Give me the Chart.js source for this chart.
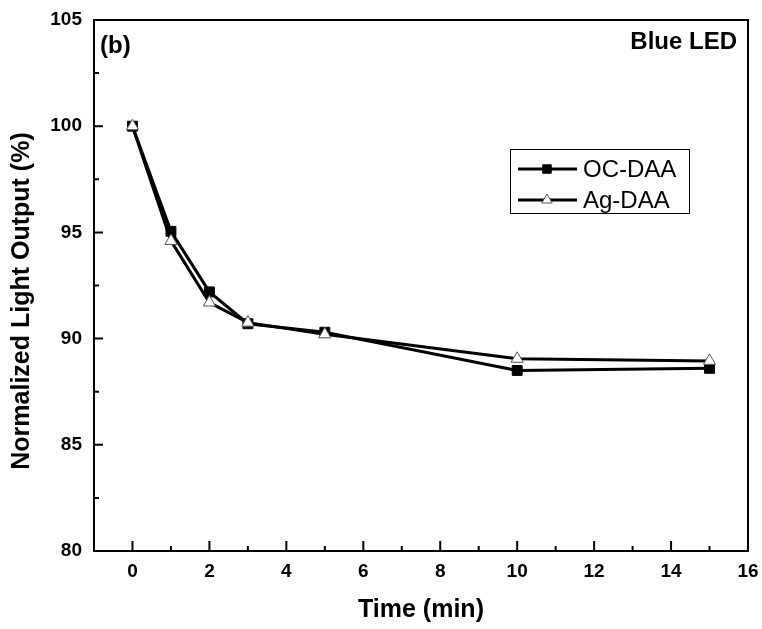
<!DOCTYPE html>
<html lang="en">
<head>
    <meta charset="utf-8">
    <title>Blue LED - Normalized Light Output</title>
    <script src="https://cdn.jsdelivr.net/npm/chart.js"></script>
    <style>
        html, body {
            margin: 0;
            padding: 0;
            background: #fff;
        }
        .chart-box {
            width: 762px;
            height: 629px;
        }
    </style>
</head>
<body>
    <div class="chart-box">
        <canvas id="ledChart" width="762" height="629"></canvas>
    </div>

    <script>
        // data
        const timeMin = [0, 1, 2, 3, 5, 10, 15];
        const ocDaa = [100, 95.05, 92.2, 90.7, 90.3, 88.5, 88.6];
        const agDaa = [100, 94.6, 91.7, 90.75, 90.2, 89.05, 88.95];

        const xTicks = [0, 2, 4, 6, 8, 10, 12, 14, 16];
        const xMinorTicks = [1, 3, 5, 7, 9, 11, 13, 15];
        const yTicks = [80, 85, 90, 95, 100, 105];
        const yMinorTicks = [82.5, 87.5, 92.5, 97.5, 102.5];

        const FONT = '"Liberation Sans", Arial, sans-serif';

        // frame, inward ticks, panel text, y title
        const frameTicks = {
            id: 'frameTicks',
            afterDraw(chart) {
                const { ctx, chartArea: a, scales } = chart;
                const x = scales.x, y = scales.y;
                ctx.save();
                ctx.strokeStyle = '#000';
                ctx.lineWidth = 2;
                ctx.strokeRect(a.left, a.top, a.right - a.left, a.bottom - a.top);

                ctx.beginPath();
                xTicks.forEach(v => {
                    const px = x.getPixelForValue(v);
                    ctx.moveTo(px, a.bottom);
                    ctx.lineTo(px, a.bottom - 10);
                });
                xMinorTicks.forEach(v => {
                    const px = x.getPixelForValue(v);
                    ctx.moveTo(px, a.bottom);
                    ctx.lineTo(px, a.bottom - 5);
                });
                yTicks.forEach(v => {
                    const py = y.getPixelForValue(v);
                    ctx.moveTo(a.left, py);
                    ctx.lineTo(a.left + 9, py);
                });
                yMinorTicks.forEach(v => {
                    const py = y.getPixelForValue(v);
                    ctx.moveTo(a.left, py);
                    ctx.lineTo(a.left + 5, py);
                });
                ctx.stroke();

                ctx.fillStyle = '#000';
                ctx.font = 'bold 24px ' + FONT;
                ctx.textBaseline = 'middle';
                ctx.textAlign = 'left';
                ctx.fillText('(b)', a.left + 6, 46);
                ctx.textAlign = 'right';
                ctx.fillText('Blue LED', a.right - 11, 42);

                // y axis title
                ctx.translate(22, 301);
                ctx.rotate(-Math.PI / 2);
                ctx.textAlign = 'center';
                ctx.font = 'bold 25px ' + FONT;
                ctx.fillText('Normalized Light Output (%)', 0, 0);
                ctx.restore();
            }
        };

        // legend with line-marker-line samples
        const boxLegend = {
            id: 'boxLegend',
            afterDraw(chart) {
                const { ctx } = chart;
                const bx = 510, by = 149, bw = 179, bh = 64;
                ctx.save();
                ctx.strokeStyle = '#000';
                ctx.lineWidth = 1;
                ctx.strokeRect(bx + 0.5, by + 0.5, bw, bh);

                const rows = [169, 200];
                chart.data.datasets.forEach((ds, i) => {
                    const cy = rows[i];
                    ctx.strokeStyle = '#000';
                    ctx.lineWidth = 3;
                    ctx.beginPath();
                    ctx.moveTo(518, cy);
                    ctx.lineTo(577, cy);
                    ctx.stroke();
                    ctx.fillStyle = ds.pointBackgroundColor;
                    ctx.strokeStyle = ds.pointBorderColor;
                    ctx.lineWidth = ds.pointBorderWidth;
                    Chart.helpers.drawPoint(ctx, {
                        pointStyle: ds.pointStyle,
                        radius: ds.legendRadius,
                        borderWidth: ds.pointBorderWidth
                    }, 547, cy);
                    ctx.fillStyle = '#000';
                    ctx.font = '24px ' + FONT;
                    ctx.textAlign = 'left';
                    ctx.textBaseline = 'middle';
                    ctx.fillText(ds.label, 583, cy + 1);
                });
                ctx.restore();
            }
        };

        new Chart(document.getElementById('ledChart'), {
            type: 'line',
            data: {
                datasets: [{
                    label: 'OC-DAA',
                    data: timeMin.map((t, i) => ({ x: t, y: ocDaa[i] })),
                    borderColor: '#000',
                    borderWidth: 3,
                    pointStyle: 'rect',
                    pointRadius: 7,
                    legendRadius: 6,
                    pointBackgroundColor: '#000',
                    pointBorderColor: '#000',
                    pointBorderWidth: 1,
                    tension: 0,
                    order: 2
                }, {
                    label: 'Ag-DAA',
                    data: timeMin.map((t, i) => ({ x: t, y: agDaa[i] })),
                    borderColor: '#000',
                    borderWidth: 3,
                    pointStyle: 'triangle',
                    pointRadius: 7,
                    legendRadius: 6,
                    pointBackgroundColor: '#fff',
                    pointBorderColor: '#555',
                    pointBorderWidth: 1,
                    tension: 0,
                    order: 1
                }]
            },
            options: {
                responsive: false,
                animation: false,
                layout: { padding: { left: 0, right: 14, top: 20, bottom: 0 } },
                plugins: {
                    legend: { display: false },
                    tooltip: { enabled: false }
                },
                scales: {
                    x: {
                        type: 'linear',
                        min: -1,
                        max: 16,
                        afterBuildTicks: s => { s.ticks = xTicks.map(v => ({ value: v })); },
                        afterFit: s => { s.height = 78; s.paddingLeft = 0; s.paddingRight = 0; },
                        grid: { display: false, drawTicks: false },
                        border: { display: false },
                        ticks: {
                            color: '#000',
                            padding: 9,
                            maxRotation: 0,
                            font: { family: FONT, size: 19, weight: 'bold' }
                        },
                        title: {
                            display: true,
                            text: 'Time (min)',
                            color: '#000',
                            padding: { top: 0, bottom: 4 },
                            font: { family: FONT, size: 25, weight: 'bold' }
                        }
                    },
                    y: {
                        min: 80,
                        max: 105,
                        afterBuildTicks: s => { s.ticks = yTicks.map(v => ({ value: v })); },
                        afterFit: s => { s.width = 94; s.paddingTop = 0; s.paddingBottom = 0; },
                        grid: { display: false, drawTicks: false },
                        border: { display: false },
                        ticks: {
                            color: '#000',
                            padding: 12,
                            font: { family: FONT, size: 19, weight: 'bold' }
                        }
                    }
                }
            },
            plugins: [frameTicks, boxLegend]
        });
    </script>
</body>
</html>
